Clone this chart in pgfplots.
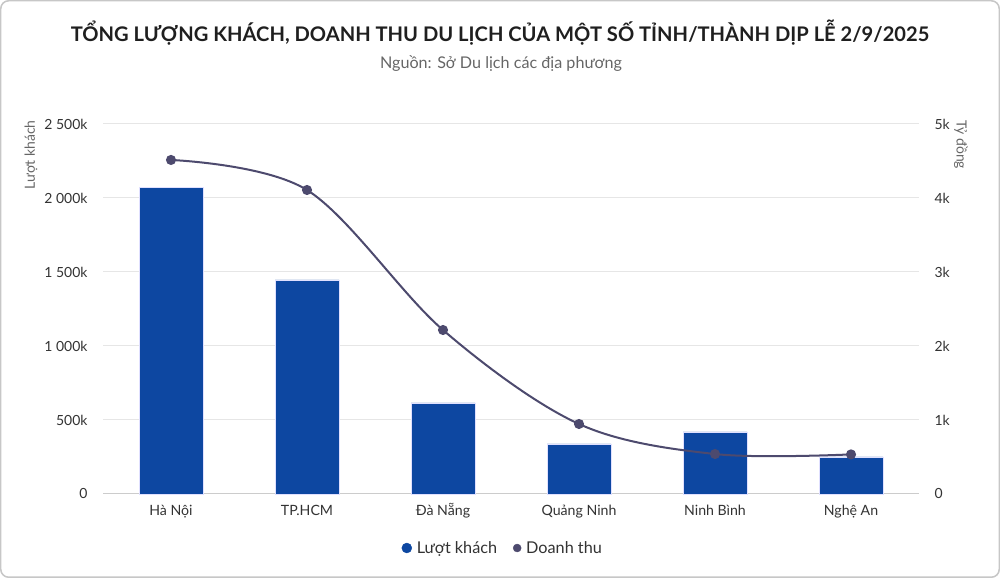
\documentclass[border=0pt]{standalone}
\usepackage{pgfplots}
\pgfplotsset{compat=1.18}
\usepackage{fontspec}
\setmainfont{Lato}
\definecolor{barblue}{HTML}{0D47A1}
\definecolor{linecol}{HTML}{4D4A6E}
\definecolor{txt}{HTML}{333333}
\definecolor{gridc}{HTML}{E6E6E6}
\begin{document}
\begin{tikzpicture}[x=1bp,y=1bp]
\useasboundingbox (0,0) rectangle (1000,578);
\fill[white] (0,0) rectangle (1000,578);
\draw[black!22, line width=1.5bp, rounded corners=8bp] (0.75,0.75) rectangle (999.25,577.25);
\node[font=\bfseries\fontsize{20.2}{24}\selectfont, text=black!88] at (500,545) {TỔNG LƯỢNG KHÁCH, DOANH THU DU LỊCH CỦA MỘT SỐ TỈNH/THÀNH DỊP LỄ 2/9/2025};
\node[font=\fontsize{16.2}{19}\selectfont, text=black!60] at (501,514) {Nguồn: Sở Du lịch các địa phương};
\node[rotate=90, anchor=east, font=\fontsize{14}{16}\selectfont, text=black!60] at (31,461) {Lượt khách};
\node[rotate=-90, anchor=west, font=\fontsize{14}{16}\selectfont, text=black!60] at (961,461) {Tỷ đồng};

\begin{axis}[
  at={(103bp,84bp)}, anchor=south west, scale only axis,
  width=816bp, height=370bp,
  xmin=-0.5, xmax=5.5, ymin=0, ymax=2500000,
  axis x line*=bottom, axis y line*=left,
  y axis line style={draw=none},
  x axis line style={draw=black!20, line width=1bp},
  major tick length=0pt,
  xtick={0,1,2,3,4,5},
  xticklabels={Hà Nội,TP.HCM,Đà Nẵng,Quảng Ninh,Ninh Bình,Nghệ An},
  x tick label style={font=\fontsize{14.2}{17}\selectfont, text=txt, text height=10.5bp, text depth=3bp, yshift=-7bp},
  ytick={0,500000,1000000,1500000,2000000,2500000},
  yticklabels={0,500k,1 000k,1 500k,2 000k,2 500k},
  scaled y ticks=false,
  y tick label style={font=\fontsize{14}{16}\selectfont, text=txt, xshift=-12bp},
  ymajorgrids, grid style={draw=gridc, line width=1bp},
  clip=false,
]
\addplot[ybar, bar width=64bp, fill=barblue, draw=blue!12!white, line width=0.5bp] coordinates {
  (0,2074000) (1,1446000) (2,615000) (3,338000) (4,419000) (5,250000)};
\end{axis}

\begin{axis}[
  at={(103bp,84bp)}, anchor=south west, scale only axis,
  width=816bp, height=370bp,
  xmin=-0.5, xmax=5.5, ymin=0, ymax=5000,
  axis x line=none, axis y line*=right,
  y axis line style={draw=none},
  major tick length=0pt,
  ytick={0,1000,2000,3000,4000,5000},
  yticklabels={0,1k,2k,3k,4k,5k},
  y tick label style={font=\fontsize{14}{16}\selectfont, text=txt, xshift=12bp},
  clip=false,
  legend style={at={(0.49,-0.146)}, anchor=center, draw=none, fill=none,
    font=\fontsize{16.3}{19}\selectfont, text=txt, legend columns=2,
    /tikz/every odd column/.append style={column sep=3bp},
    /tikz/every even column/.append style={column sep=14bp}},
  legend cell align=left,
]
\addplot[linecol, line width=2bp, smooth, tension=0.55, mark=*, mark size=4bp, mark options={fill=linecol, draw=linecol}, forget plot] coordinates {
  (0,4514) (1,4108) (2,2216) (3,946) (4,540) (5,535)};
\addlegendimage{only marks, mark=*, mark size=5bp, color=barblue}
\addlegendentry{Lượt khách}
\addlegendimage{only marks, mark=*, mark size=4bp, color=linecol}
\addlegendentry{Doanh thu}
\end{axis}
\end{tikzpicture}
\end{document}
